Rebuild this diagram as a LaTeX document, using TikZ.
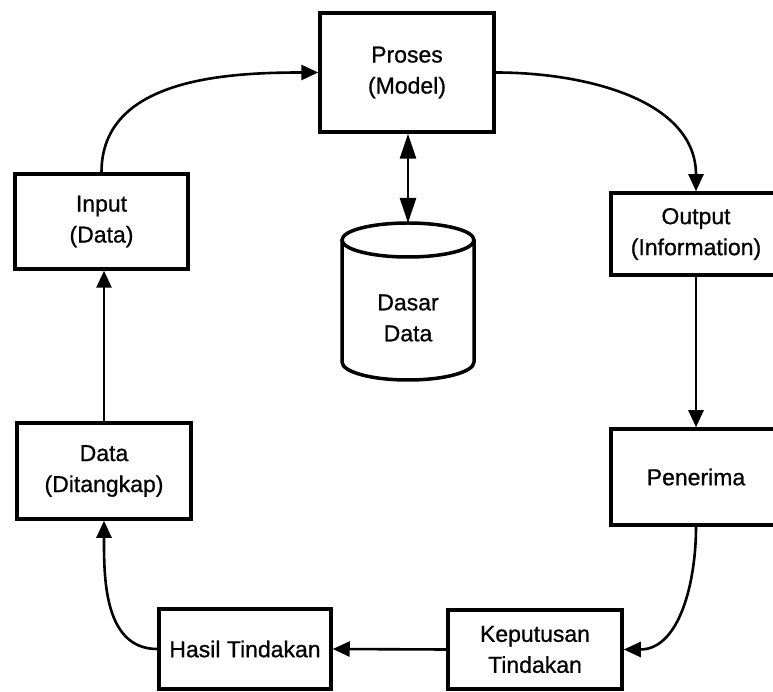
\documentclass[tikz,border=0pt]{standalone}
\usepackage{fontspec}
\setmainfont{Liberation Sans}
\newfontface\labfont{Liberation Sans}[FakeBold=0.8]
\usetikzlibrary{arrows.meta}
\begin{document}
\begin{tikzpicture}[x=1pt,y=1pt,
  box/.style={draw,line width=3.5pt,align=center,inner sep=0pt,
    font=\labfont\fontsize{23}{31}\selectfont},
  conn/.style={line width=2.6pt,-{Triangle[length=17pt,width=15pt]}},
  dconn/.style={line width=2.6pt,{Triangle[length=25pt,width=16pt]}-{Triangle[length=25pt,width=16pt]}}]
\useasboundingbox (0,0) rectangle (773,691);
\fill[white] (0,0) rectangle (773,691);
\node[box,minimum width=174pt,minimum height=119pt] (P) at (407,618.5) {Proses\\(Model)};
\node[box,minimum width=173pt,minimum height=95pt] (I) at (101.5,469.5) {Input\\(Data)};
\node[box,minimum width=170pt,minimum height=82pt] (O) at (696,457) {Output\\(Information)};
\node[box,minimum width=170pt,minimum height=96pt] (R) at (696,214) {Penerima};
\node[box,minimum width=174pt,minimum height=96pt] (D) at (104,220) {Data\\(Ditangkap)};
\node[box,minimum width=172pt,minimum height=80pt] (H) at (245,42) {Hasil Tindakan};
\node[box,minimum width=174pt,minimum height=79pt] (K) at (535,41.5) {Keputusan\\Tindakan};
% database cylinder
\draw[line width=3.5pt] (342,451) -- (342,329) arc[start angle=180,end angle=360,x radius=66pt,y radius=18pt] -- (474,451);
\draw[line width=3.5pt,fill=white] (408,451) ellipse [x radius=66pt,y radius=17pt];
\node[font=\labfont\fontsize{23}{31}\selectfont,align=center] (DB) at (408,373) {Dasar\\Data};
\coordinate (DBtop) at (408,468);
% connectors
\draw[conn] (I.north) to[out=90,in=180] (P.west);
\draw[conn] (P.east) to[out=0,in=90] (O.north);
\draw[conn] (O.south) -- (R.north);
\draw[conn] (R.south) to[out=-90,in=0] (K.east);
\draw[conn] (K.west) -- (H.east);
\draw[conn] (H.west) to[out=180,in=-90] (D.south);
\draw[conn] (D.north) -- (D.north |- I.south);
\draw[dconn] (P.south -| DBtop) -- (DBtop);
\end{tikzpicture}
\end{document}
